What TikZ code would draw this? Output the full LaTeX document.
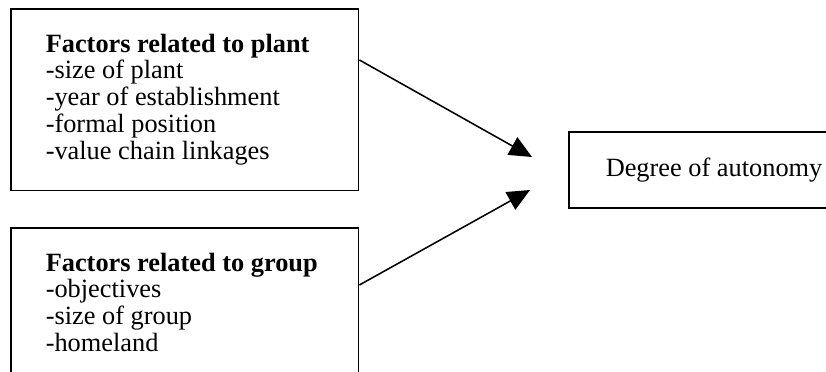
\documentclass[tikz,border=0pt]{standalone}
\usepackage{fontspec}
\setmainfont{Liberation Serif}
\usetikzlibrary{arrows.meta}

\begin{document}
\begin{tikzpicture}[
    x=0.016cm,
    y=-0.016cm,
    box/.style={
        rectangle,
        draw=black,
        line width=0.7pt,
        font=\fontsize{12}{12.2}\selectfont,
        inner xsep=0.56cm,
        inner ysep=0.4cm,
        anchor=north west
    },
    arrow/.style={
        -{Triangle[length=0.36cm,width=0.32cm]},
        line width=0.7pt
    }
]

\useasboundingbox (0,0) rectangle (826,371);
\clip (0,0) rectangle (826,371);

% Plant factors
\node[box] (plant) at (10,8) {
    \begin{minipage}[c][2.112cm][t]{4.448cm}
    \raggedright
    \textbf{Factors related to plant}\\
    -size of plant\\
    -year of establishment\\
    -formal position\\
    -value chain linkages
    \end{minipage}
};

% Group factors
\node[box] (group) at (10,227) {
    \begin{minipage}[c][3cm][t]{4.448cm}
    \raggedright
    \textbf{Factors related to group}\\
    -objectives\\
    -size of group\\
    -homeland
    \end{minipage}
};

% Outcome
\node[box, anchor=west, inner xsep=0.592cm, inner ysep=0pt, minimum height=1.216cm] (autonomy) at (568,170) {Degree of autonomy};

% Arrows
\coordinate (tipA) at (532,157);
\coordinate (tipB) at (530,190);
\draw[arrow] ([yshift=-0.832cm]plant.north east) -- (tipA);
\draw[arrow] ([yshift=-0.928cm]group.north east) -- (tipB);

\end{tikzpicture}
\end{document}
